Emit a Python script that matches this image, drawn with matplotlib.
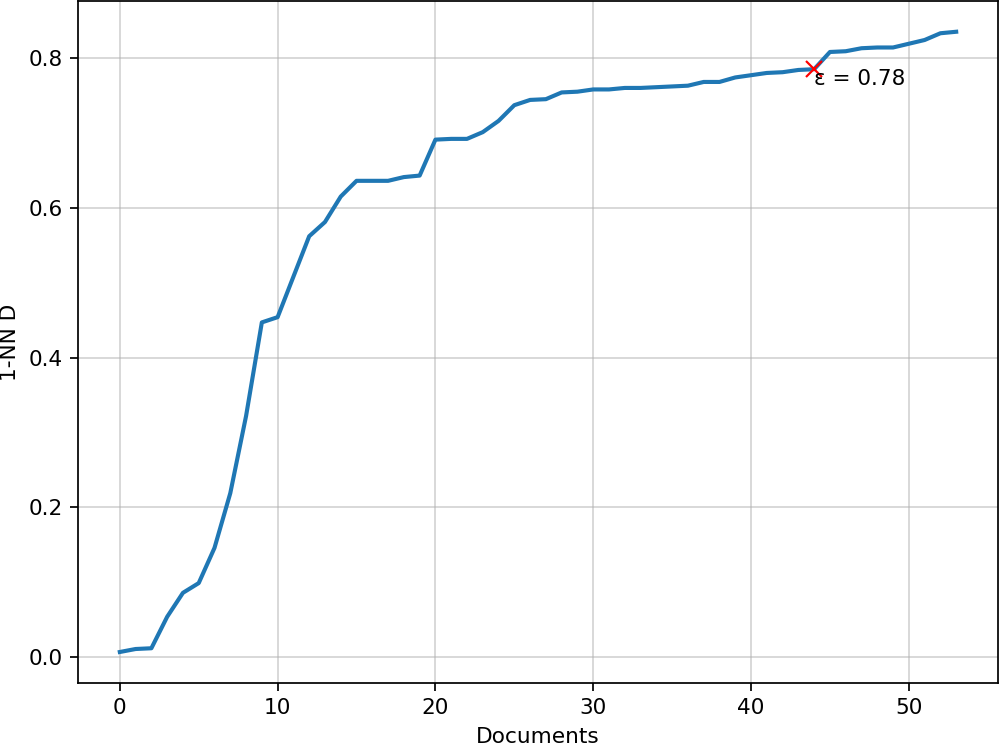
import numpy as np
import matplotlib
matplotlib.use("Agg")
import matplotlib.pyplot as plt

# sorted 1-NN distances of the documents
nnDist = [0.007, 0.011, 0.012, 0.054, 0.086, 0.099, 0.146, 0.219, 0.322, 0.447,
          0.454, 0.508, 0.562, 0.581, 0.615, 0.636, 0.636, 0.636, 0.641, 0.643,
          0.691, 0.692, 0.692, 0.701, 0.716, 0.737, 0.744, 0.745, 0.754, 0.755,
          0.758, 0.758, 0.760, 0.760, 0.761, 0.762, 0.763, 0.768, 0.768, 0.774,
          0.777, 0.780, 0.781, 0.784, 0.785, 0.808, 0.809, 0.813, 0.814, 0.814,
          0.819, 0.824, 0.833, 0.835]
docs = np.arange(len(nnDist))

#knee point
kneeIdx = 44
epsLabel = "\u03b5 = 0.78"

dpi = 156
fig = plt.figure(figsize=(1000 / dpi, 745 / dpi), dpi=dpi)
ax = fig.add_axes([0.078, 0.0832, 0.920, 0.9158])

ax.plot(docs, nnDist, color="#1f77b4", linewidth=1.9)
ax.plot(docs[kneeIdx], nnDist[kneeIdx], "x", color="red", markersize=7.5)
ax.text(docs[kneeIdx], nnDist[kneeIdx], epsLabel, va="top", ha="left")

ax.grid(color="#b0b0b0", alpha=0.55)
ax.set_xlabel("Documents")
ax.set_ylabel("1-NN D")
ax.set_yticks([0.0, 0.2, 0.4, 0.6, 0.8])

fig.savefig("out.png", dpi=dpi)
